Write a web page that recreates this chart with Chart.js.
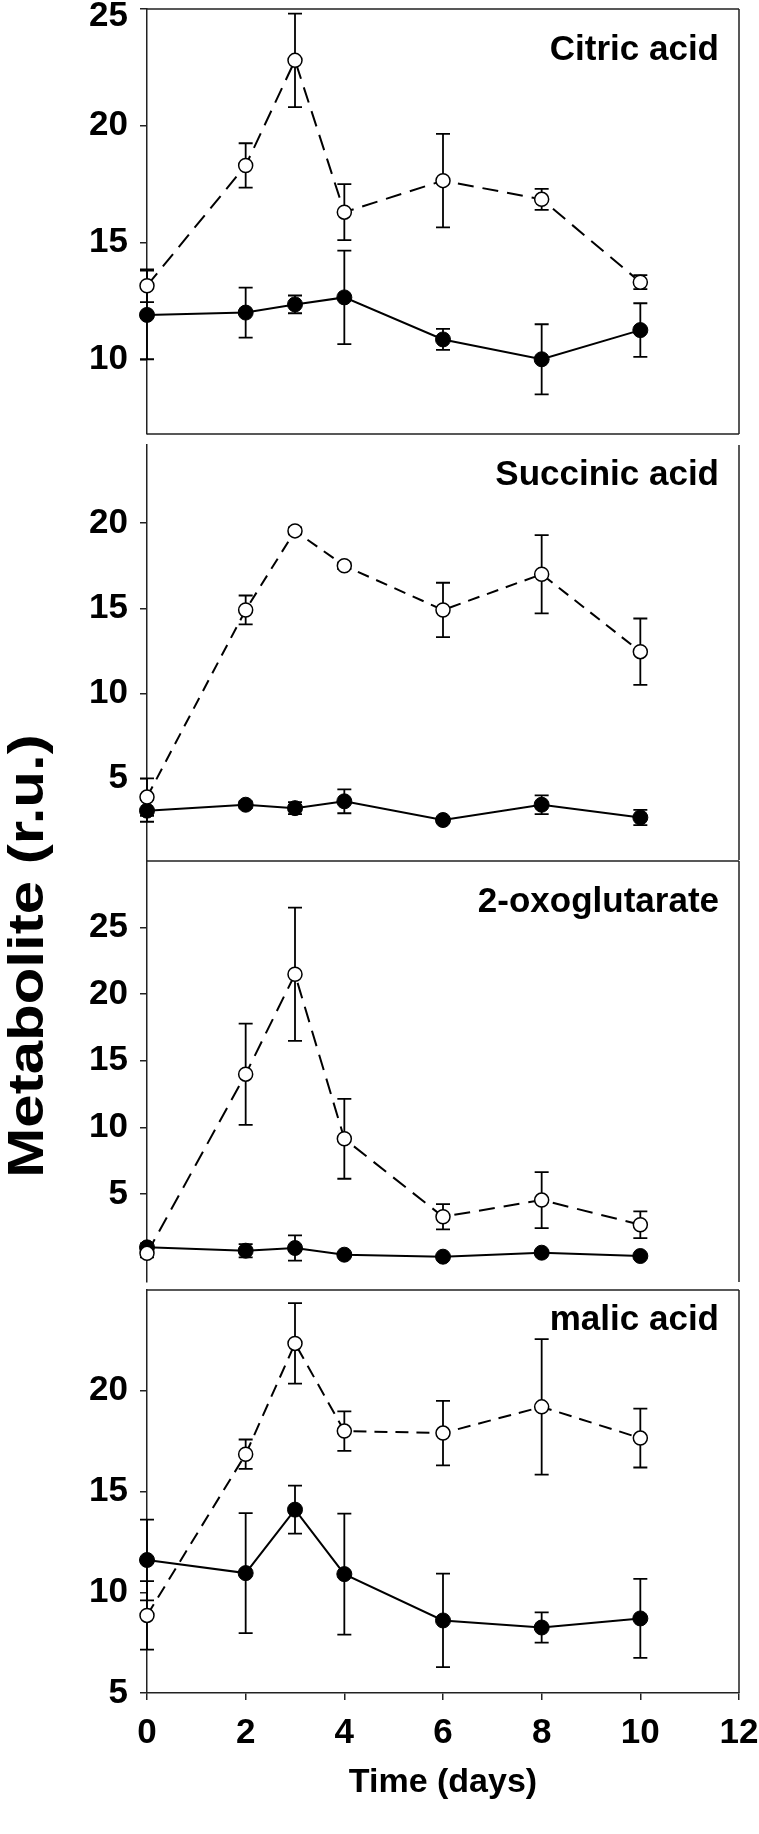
<!DOCTYPE html>
<html>
<head>
<meta charset="utf-8">
<script src="https://cdn.jsdelivr.net/npm/chart.js@4.4.1/dist/chart.umd.min.js"></script>
<style>
  html, body { margin: 0; padding: 0; background: #fff; }
  #page { position: relative; width: 759px; height: 1834px; overflow: hidden; font-family: "Liberation Sans", Arial, sans-serif; }
  #page canvas { position: absolute; left: 0; }
  #ytitle {
    position: absolute; left: 26px; top: 956px;
    font-weight: bold; font-size: 50px; white-space: nowrap; line-height: 1;
    transform: translate(-50%, -50%) rotate(-90deg) scaleX(1.2);
  }
</style>
</head>
<body>
<div id="page">
  <div id="ytitle">Metabolite (r.u.)</div>
  <canvas id="c0"></canvas>
  <canvas id="c1"></canvas>
  <canvas id="c2"></canvas>
  <canvas id="c3"></canvas>
</div>
<script>
// sampling days
const days = [0, 2, 3, 4, 6, 8, 10];
const xTicks = [0, 2, 4, 6, 8, 10, 12];

// citric acid
const citricOpen = [13.15, 18.3, 22.8, 16.3, 17.65, 16.85, 13.3];
const citricOpenErr = [0.7, 0.95, 2.0, 1.2, 2.0, 0.45, 0.3];
const citricSolid = [11.9, 12.0, 12.35, 12.65, 10.85, 10.0, 11.25];
const citricSolidErr = [1.9, 1.07, 0.38, 2.0, 0.45, 1.5, 1.15];
const citricTicks = [10, 15, 20, 25];

// succinic acid
const succinicOpen = [3.9, 14.9, 19.55, 17.5, 14.9, 17.0, 12.45];
const succinicOpenErr = [1.1, 0.85, 0.2, 0.2, 1.6, 2.3, 1.95];
const succinicSolid = [3.1, 3.45, 3.25, 3.65, 2.55, 3.45, 2.7];
const succinicSolidErr = [0.65, 0.2, 0.35, 0.7, 0.1, 0.55, 0.45];
const succinicTicks = [5, 10, 15, 20];

// 2-oxoglutarate
const oxoOpen = [0.55, 14.0, 21.5, 9.15, 3.3, 4.55, 2.7];
const oxoOpenErr = [0.3, 3.8, 5.0, 3.0, 0.95, 2.1, 1.0];
const oxoSolid = [1.0, 0.75, 0.95, 0.45, 0.3, 0.6, 0.35];
const oxoSolidErr = [0.3, 0.5, 0.95, 0.1, 0.1, 0.1, 0.1];
const oxoTicks = [5, 10, 15, 20, 25];

// malic acid
const malicOpen = [8.85, 16.85, 22.35, 18.0, 17.9, 19.2, 17.65];
const malicOpenErr = [1.7, 0.73, 2.0, 0.98, 1.6, 3.36, 1.46];
const malicSolid = [11.6, 10.95, 14.1, 10.9, 8.6, 8.25, 8.7];
const malicSolidErr = [2.0, 2.98, 1.19, 3.0, 2.32, 0.75, 1.96];
const malicTicks = [5, 10, 15, 20];

const FONT = '"Liberation Sans", Arial, sans-serif';
const PLOT_LEFT = 147, PLOT_RIGHT = 739, PAD = 14;

const panels = [
  { title: 'Citric acid', open: citricOpen, openErr: citricOpenErr, solid: citricSolid, solidErr: citricSolidErr,
    ticks: citricTicks, min: 6.8, max: 25, top: 9, bottom: 434, sides: ['top', 'right', 'bottom'], dash: [16, 9], titleDy: 51, shiftTop: true },
  { title: 'Succinic acid', open: succinicOpen, openErr: succinicOpenErr, solid: succinicSolid, solidErr: succinicSolidErr,
    ticks: succinicTicks, min: 0.2, max: 24.6, top: 445, bottom: 860, sides: ['right'], dash: [12, 8], titleDy: 40 },
  { title: '2-oxoglutarate', open: oxoOpen, openErr: oxoOpenErr, solid: oxoSolid, solidErr: oxoSolidErr,
    ticks: oxoTicks, min: -1.6, max: 30, top: 861, bottom: 1282, sides: ['top', 'right'], dash: [16, 9], titleDy: 51 },
  { title: 'malic acid', open: malicOpen, openErr: malicOpenErr, solid: malicSolid, solidErr: malicSolidErr,
    ticks: malicTicks, min: 5, max: 25, top: 1290, bottom: 1693, sides: ['top', 'right'], dash: [13, 8], titleDy: 40, last: true }
];

// vertical error bars with caps, drawn under lines and markers
const errorBars = {
  id: 'errorBars',
  beforeDatasetsDraw(chart) {
    const { ctx, scales: { x, y } } = chart;
    ctx.save();
    ctx.strokeStyle = '#000';
    ctx.lineWidth = 1.8;
    chart.data.datasets.forEach(ds => {
      ds.data.forEach((p, i) => {
        const e = ds.errors[i];
        const px = x.getPixelForValue(p.x);
        const y1 = y.getPixelForValue(p.y + e);
        const y2 = y.getPixelForValue(p.y - e);
        ctx.beginPath();
        ctx.moveTo(px, y1); ctx.lineTo(px, y2);
        ctx.moveTo(px - 7, y1); ctx.lineTo(px + 7, y1);
        ctx.moveTo(px - 7, y2); ctx.lineTo(px + 7, y2);
        ctx.stroke();
      });
    });
    ctx.restore();
  }
};

// frame sides and panel label
const panelDeco = {
  id: 'panelDeco',
  afterDraw(chart, args, opts) {
    const { ctx, chartArea: a } = chart;
    ctx.save();
    ctx.strokeStyle = '#222';
    ctx.lineWidth = 1.5;
    ctx.beginPath();
    if (opts.sides.includes('top')) { ctx.moveTo(a.left, a.top); ctx.lineTo(a.right, a.top); }
    if (opts.sides.includes('right')) { ctx.moveTo(a.right, a.top); ctx.lineTo(a.right, a.bottom); }
    if (opts.sides.includes('bottom')) { ctx.moveTo(a.left, a.bottom); ctx.lineTo(a.right, a.bottom); }
    ctx.stroke();
    ctx.fillStyle = '#000';
    ctx.font = 'bold 35px ' + FONT;
    ctx.textAlign = 'right';
    ctx.textBaseline = 'alphabetic';
    ctx.fillText(opts.text, 719, a.top + opts.dy);
    ctx.restore();
  }
};

panels.forEach((p, i) => {
  const canvas = document.getElementById('c' + i);
  const top = p.top - PAD;
  const height = p.last ? 1834 - top : p.bottom - p.top + 2 * PAD;
  canvas.width = 759;
  canvas.height = height;
  canvas.style.top = top + 'px';

  const toPoints = vals => vals.map((v, k) => ({ x: days[k], y: v }));
  // the label sitting on the top edge is pushed down a little so it is not cut off
  const isTopLabel = v => p.shiftTop && v === p.max;

  const xScale = {
    type: 'linear',
    min: 0,
    max: 12,
    display: !!p.last,
    afterBuildTicks: s => { s.ticks = xTicks.map(v => ({ value: v })); },
    grid: { drawOnChartArea: false, drawTicks: true, tickLength: 7, color: '#222', lineWidth: 1.5 },
    border: { display: true, color: '#222', width: 1.5 },
    ticks: { color: '#000', font: { family: FONT, size: 35, weight: 'bold' }, padding: 12, maxRotation: 0 },
    title: { display: true, text: 'Time (days)', color: '#000', font: { family: FONT, size: 34, weight: 'bold' }, padding: { top: 0, bottom: 31 } }
  };
  if (p.last) {
    xScale.afterFit = s => {
      s.height = 1834 - p.bottom;
      s.paddingLeft = 0;
      s.paddingRight = 0;
    };
  }

  new Chart(canvas, {
    type: 'line',
    data: {
      datasets: [
        {
          label: 'open',
          data: toPoints(p.open),
          errors: p.openErr,
          borderColor: '#000',
          borderWidth: 2,
          borderDash: p.dash,
          pointRadius: 7,
          pointBorderWidth: 1.5,
          pointBackgroundColor: '#fff',
          pointBorderColor: '#000',
          clip: false
        },
        {
          label: 'solid',
          data: toPoints(p.solid),
          errors: p.solidErr,
          borderColor: '#000',
          borderWidth: 2,
          pointRadius: 7.5,
          pointBorderWidth: 1,
          pointBackgroundColor: '#000',
          pointBorderColor: '#000',
          clip: false
        }
      ]
    },
    options: {
      responsive: false,
      animation: false,
      layout: { padding: { left: 0, right: 759 - PLOT_RIGHT, top: PAD, bottom: p.last ? 0 : PAD } },
      plugins: {
        legend: { display: false },
        tooltip: { enabled: false },
        panelDeco: { sides: p.sides, text: p.title, dy: p.titleDy }
      },
      scales: {
        x: xScale,
        y: {
          min: p.min,
          max: p.max,
          afterBuildTicks: s => { s.ticks = p.ticks.map(v => ({ value: v })); },
          afterFit: s => {
            s.width = PLOT_LEFT;
            s.paddingTop = 0;
            s.paddingBottom = 0;
          },
          grid: { drawOnChartArea: false, drawTicks: true, tickLength: 7, color: '#222', lineWidth: 1.5 },
          border: { display: true, color: '#222', width: 1.5 },
          ticks: {
            color: '#000',
            font: c => ({ family: FONT, size: 35, weight: 'bold', lineHeight: c.tick && isTopLabel(c.tick.value) ? 0.4 : 1.2 }),
            padding: 12,
            callback: v => isTopLabel(v) ? ['', String(v)] : String(v)
          }
        }
      }
    },
    plugins: [errorBars, panelDeco]
  });
});
</script>
</body>
</html>
